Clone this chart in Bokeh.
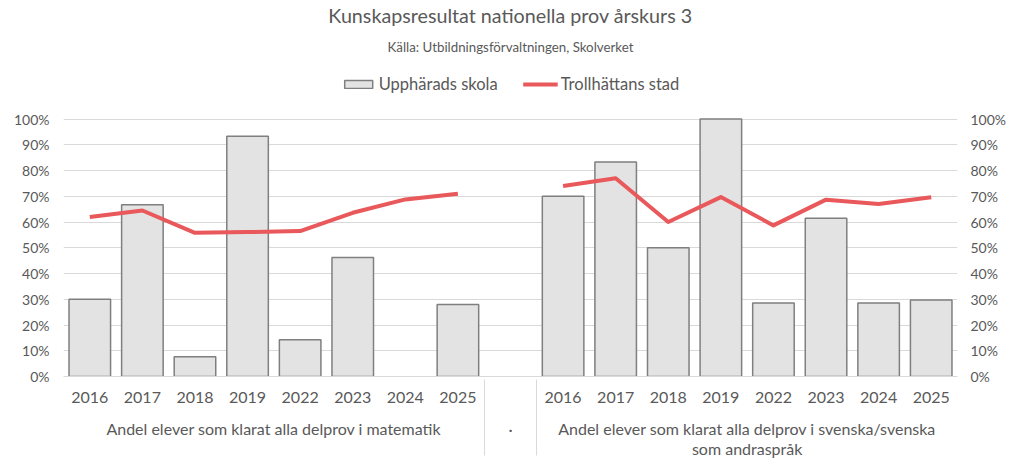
from bokeh.plotting import figure
from bokeh.models import (FactorRange, Range1d, LinearAxis, PrintfTickFormatter, Legend,
                          LegendItem, Title, FixedTicker)
from bokeh.embed import file_html
from bokeh.resources import INLINE

# ---- data ----
years = ["2016", "2017", "2018", "2019", "2022", "2023", "2024", "2025"]
group_math = "Andel elever som klarat alla delprov i matematik"
group_mid = "·"
group_sv = "Andel elever som klarat alla delprov i svenska/svenska\nsom andraspråk"

school_math = [30.0, 66.7, 7.7, 93.3, 14.3, 46.2, None, 28.0]
school_sv = [70.0, 83.3, 50.0, 100.0, 28.6, 61.5, 28.6, 29.7]
city_math = [62.0, 64.5, 55.8, 56.1, 56.5, 63.6, 68.8, 71.0]
city_sv = [74.0, 77.0, 60.0, 69.7, 58.7, 68.7, 67.0, 69.6]

y_ticks = [0, 10, 20, 30, 40, 50, 60, 70, 80, 90, 100]

series_school = "Upphärads skola"
series_city = "Trollhättans stad"
title_text = "Kunskapsresultat nationella prov årskurs 3"
subtitle_text = "Källa: Utbildningsförvaltningen, Skolverket"

# ---- build ----
FONT = "Lato"
TXT = "#595959"
GRID = "#D9D9D9"
Y_TOP = 121.6  # room above 100 % for the legend, inside the frame

factors = [(group_math, y) for y in years] + [(group_mid, " ")] + [(group_sv, y) for y in years]

bar_x, bar_top = [], []
for grp, vals in ((group_math, school_math), (group_sv, school_sv)):
    for y, v in zip(years, vals):
        if v is not None:
            bar_x.append((grp, y))
            bar_top.append(v)

line_x = [(group_math, y) for y in years] + [(group_mid, " ")] + [(group_sv, y) for y in years]
line_y = city_math + [float("nan")] + city_sv

p = figure(
    x_range=FactorRange(*factors, factor_padding=0, group_padding=0, subgroup_padding=0, range_padding=0),
    y_range=Range1d(0, Y_TOP),
    width=1009, height=461,
    output_backend="svg", toolbar_location=None,
    min_border_left=63, min_border_right=52, min_border_top=0, min_border_bottom=84,
)
p.outline_line_color = None
p.background_fill_color = "white"
p.border_fill_color = "white"

bars = p.vbar(x=bar_x, top=bar_top, width=0.79, fill_color="#E3E3E3",
              line_color="#7F7F7F", line_width=1.5)
line = p.line(x=line_x, y=line_y, line_color="#E9585A", line_width=4, line_join="round")

# grid
p.xgrid.grid_line_color = None
p.ygrid.grid_line_color = GRID
p.ygrid.ticker = FixedTicker(ticks=y_ticks)

# y axes
p.yaxis.ticker = FixedTicker(ticks=y_ticks)
p.yaxis.formatter = PrintfTickFormatter(format="%d%%")
right = LinearAxis(ticker=FixedTicker(ticks=y_ticks), formatter=PrintfTickFormatter(format="%d%%"))
p.add_layout(right, "right")
for ax in (p.yaxis[0], right):
    ax.axis_line_color = None
    ax.major_tick_line_color = None
    ax.minor_tick_line_color = None
    ax.major_tick_out = 0
    ax.major_tick_in = 0
    ax.minor_tick_out = 0
    ax.major_label_text_font = FONT
    ax.major_label_text_font_size = "14px"
    ax.major_label_text_color = TXT
    ax.major_label_standoff = 14
right.major_label_standoff = 13

# x axis
xa = p.xaxis[0]
xa.axis_line_color = GRID
xa.major_tick_line_color = None
xa.minor_tick_line_color = None
xa.major_tick_out = 0
xa.major_tick_in = 0
xa.minor_tick_out = 0
xa.major_label_text_font = FONT
xa.major_label_text_font_size = "16px"
xa.major_label_text_color = TXT
xa.major_label_standoff = 10
xa.group_text_font = FONT
xa.group_text_font_size = "16px"
xa.group_text_color = TXT
xa.group_text_font_style = "normal"
xa.group_text_line_height = 1.1
xa.separator_line_color = GRID
xa.separator_line_width = 1

legend = Legend(
    items=[LegendItem(label=series_school, renderers=[bars]),
           LegendItem(label=series_city, renderers=[line])],
    orientation="horizontal", location="top",
    border_line_color=None, background_fill_alpha=0,
    label_text_font=FONT, label_text_font_size="16.5px", label_text_color=TXT,
    glyph_width=35, glyph_height=10, spacing=25, label_standoff=3, padding=0, margin=11,
)
p.add_layout(legend)
p.add_layout(Title(text=subtitle_text, align="center", text_font=FONT, text_font_size="13.3px",
                   text_font_style="normal", text_color=TXT, standoff=17), "above")
p.add_layout(Title(text=title_text, align="center", text_font=FONT, text_font_size="19.7px",
                   text_font_style="normal", text_color=TXT, standoff=3), "above")

open("out.html", "w").write(file_html(p, INLINE))
